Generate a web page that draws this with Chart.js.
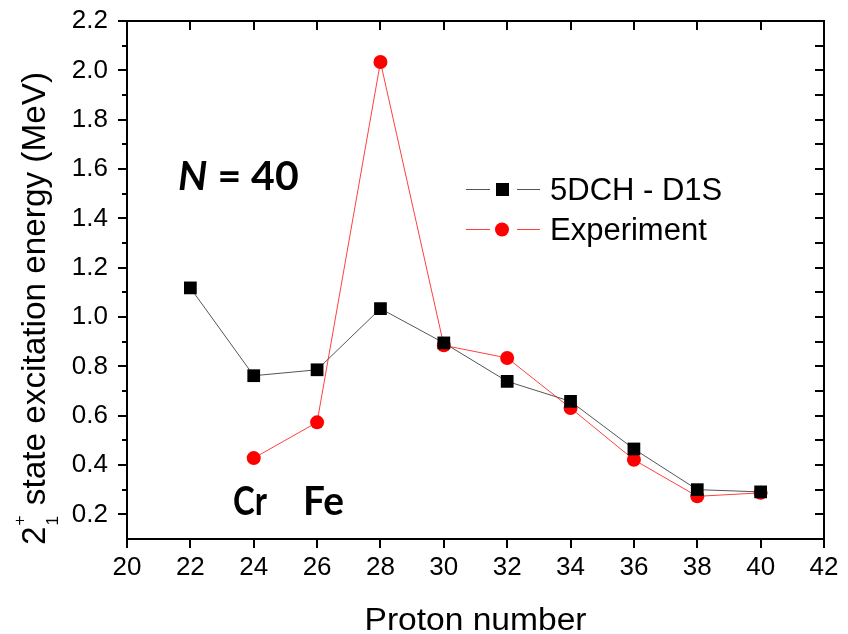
<!DOCTYPE html>
<html>
<head>
<meta charset="utf-8">
<script src="https://cdn.jsdelivr.net/npm/chart.js@4.4.1/dist/chart.umd.min.js"></script>
<style>
  body { margin: 0; background: #fff; }
  canvas { display: block; }
</style>
</head>
<body>
<canvas id="grafico" width="848" height="634"></canvas>
<script>
// proton numbers along the N = 40 isotone chain
var protones = [22, 24, 26, 28, 30, 32, 34, 36, 38, 40];
// 2+ excitation energies (MeV), theory and measured
var teoria = [1.118, 0.762, 0.786, 1.034, 0.895, 0.739, 0.658, 0.465, 0.300, 0.291];
var experimento = [null, 0.428, 0.573, 2.034, 0.885, 0.834, 0.631, 0.421, 0.273, 0.287];
var etiquetas = ["5DCH - D1S", "Experiment"];
var ticksX = [20, 22, 24, 26, 28, 30, 32, 34, 36, 38, 40, 42];
var ticksY = [0.2, 0.4, 0.6, 0.8, 1.0, 1.2, 1.4, 1.6, 1.8, 2.0, 2.2];
var menoresY = [0.1, 0.3, 0.5, 0.7, 0.9, 1.1, 1.3, 1.5, 1.7, 1.9, 2.1];

function puntos(valores) {
  return protones.map(function (z, i) { return { x: z, y: valores[i] }; });
}

var fuente = "'Liberation Sans', Arial, sans-serif";

// axis frame, ticks, titles, legend and annotations
var marco = {
  id: 'marco',
  afterDraw: function (chart) {
    var ctx = chart.ctx;
    var a = chart.chartArea;
    var sx = chart.scales.x, sy = chart.scales.y;
    ctx.save();
    ctx.strokeStyle = '#000';
    ctx.lineWidth = 2;
    ctx.strokeRect(a.left, a.top, a.right - a.left, a.bottom - a.top);

    ctx.beginPath();
    ticksX.forEach(function (v) {
      var px = Math.round(sx.getPixelForValue(v));
      ctx.moveTo(px, a.bottom); ctx.lineTo(px, a.bottom + 9);
      if (v > ticksX[0] && v < ticksX[ticksX.length - 1]) {
        ctx.moveTo(px, a.top); ctx.lineTo(px, a.top + 9);
      }
    });
    ticksY.forEach(function (v) {
      var py = Math.round(sy.getPixelForValue(v));
      ctx.moveTo(a.left, py); ctx.lineTo(a.left - 9, py);
      if (v < 2.2) { ctx.moveTo(a.right, py); ctx.lineTo(a.right - 9, py); }
    });
    menoresY.forEach(function (v) {
      var py = Math.round(sy.getPixelForValue(v));
      if (v > 0.15) {
        ctx.moveTo(a.left, py); ctx.lineTo(a.left - 5, py);
        ctx.moveTo(a.right, py); ctx.lineTo(a.right - 9, py);
      }
    });
    ctx.stroke();

    // x title
    ctx.fillStyle = '#000';
    ctx.textAlign = 'center';
    ctx.textBaseline = 'alphabetic';
    ctx.font = '31px ' + fuente;
    var wt = ctx.measureText('Proton number').width;
    ctx.save();
    ctx.translate((a.left + a.right) / 2, 630);
    ctx.scale(222 / wt, 1);
    ctx.fillText('Proton number', 0, 0);
    ctx.restore();

    // y title with 2+_1
    ctx.save();
    ctx.translate(45, 545);
    ctx.rotate(-Math.PI / 2);
    ctx.textAlign = 'left';
    ctx.font = '33px ' + fuente;
    var w2 = ctx.measureText('2').width;
    var resto = ' state excitation energy (MeV)';
    var wr = ctx.measureText(resto).width;
    ctx.font = '17px ' + fuente;
    var wi = Math.max(ctx.measureText('+').width, ctx.measureText('1').width);
    var k = 473 / (w2 + wi + 2 + wr);
    ctx.scale(k, 1);
    ctx.font = '33px ' + fuente;
    ctx.fillText('2', 0, 0);
    ctx.fillText(resto, w2 + wi + 2, 0);
    ctx.font = '17px ' + fuente;
    ctx.fillText('+', w2 + 1, -20);
    ctx.fillText('1', w2 + 1, 13);
    ctx.restore();

    // legend
    ctx.font = '31px ' + fuente;
    ctx.textAlign = 'left';
    ctx.textBaseline = 'middle';
    chart.data.datasets.forEach(function (ds, i) {
      var y = 189 + i * 40;
      ctx.strokeStyle = ds.borderColor;
      ctx.lineWidth = 1;
      ctx.beginPath();
      ctx.moveTo(466, y + 0.5); ctx.lineTo(490, y + 0.5);
      ctx.moveTo(517, y + 0.5); ctx.lineTo(540, y + 0.5);
      ctx.stroke();
      ctx.fillStyle = ds.backgroundColor;
      ctx.beginPath();
      if (ds.pointStyle === 'rect') {
        ctx.rect(496, y - 6, 13, 13);
      } else {
        ctx.arc(502, y + 0.5, 7, 0, Math.PI * 2);
      }
      ctx.fill();
      ctx.fillStyle = '#000';
      ctx.fillText(ds.label, 550, y + 2);
    });

    // annotations
    ctx.textBaseline = 'alphabetic';
    ctx.fillStyle = '#000';
    ctx.font = 'italic bold 41px Lato, sans-serif';
    ctx.fillText('N', 178, 190);
    var wn = ctx.measureText('N').width;
    ctx.font = 'bold 41px Lato, sans-serif';
    ctx.fillText(' = 40', 178 + wn, 190);

    ctx.font = 'bold 40px Lato, sans-serif';
    ctx.save();
    ctx.translate(233, 515);
    ctx.scale(0.82, 1);
    ctx.fillText('Cr', 0, 0);
    ctx.restore();
    ctx.save();
    ctx.translate(303, 515);
    ctx.scale(0.97, 1);
    ctx.fillText('Fe', 0, 0);
    ctx.restore();
    ctx.restore();
  }
};

var ctx = document.getElementById('grafico').getContext('2d');
var grafico = new Chart(ctx, {
  type: 'line',
  data: {
    datasets: [{
      label: etiquetas[0],
      data: puntos(teoria),
      borderColor: '#555',
      backgroundColor: '#000',
      borderWidth: 1,
      pointStyle: 'rect',
      pointRadius: 9,
      pointBorderWidth: 0,
      tension: 0
    }, {
      label: etiquetas[1],
      data: puntos(experimento),
      borderColor: '#ff4040',
      backgroundColor: '#ff0000',
      borderWidth: 1,
      pointStyle: 'circle',
      pointRadius: 7,
      pointBorderWidth: 0,
      tension: 0,
      spanGaps: false
    }]
  },
  options: {
    responsive: false,
    animation: false,
    devicePixelRatio: 1,
    layout: { padding: { left: 0, right: 24, top: 21, bottom: 0 } },
    plugins: { legend: { display: false }, tooltip: { enabled: false } },
    scales: {
      x: {
        type: 'linear',
        min: 20,
        max: 42,
        afterBuildTicks: function (s) { s.ticks = ticksX.map(function (v) { return { value: v }; }); },
        afterFit: function (s) { s.height = 95; s.paddingLeft = 0; s.paddingRight = 0; },
        grid: { display: false, drawTicks: false },
        border: { display: false },
        ticks: { color: '#000', font: { family: fuente, size: 26 }, padding: 13, maxRotation: 0 }
      },
      y: {
        type: 'linear',
        min: 0.1,
        max: 2.2,
        afterBuildTicks: function (s) { s.ticks = ticksY.map(function (v) { return { value: v }; }); },
        afterFit: function (s) { s.width = 127; s.paddingTop = 0; s.paddingBottom = 0; },
        grid: { display: false, drawTicks: false },
        border: { display: false },
        ticks: {
          color: '#000',
          font: { family: fuente, size: 26 },
          padding: 19,
          callback: function (v) { return v.toFixed(1); }
        }
      }
    }
  },
  plugins: [marco]
});
</script>
</body>
</html>
